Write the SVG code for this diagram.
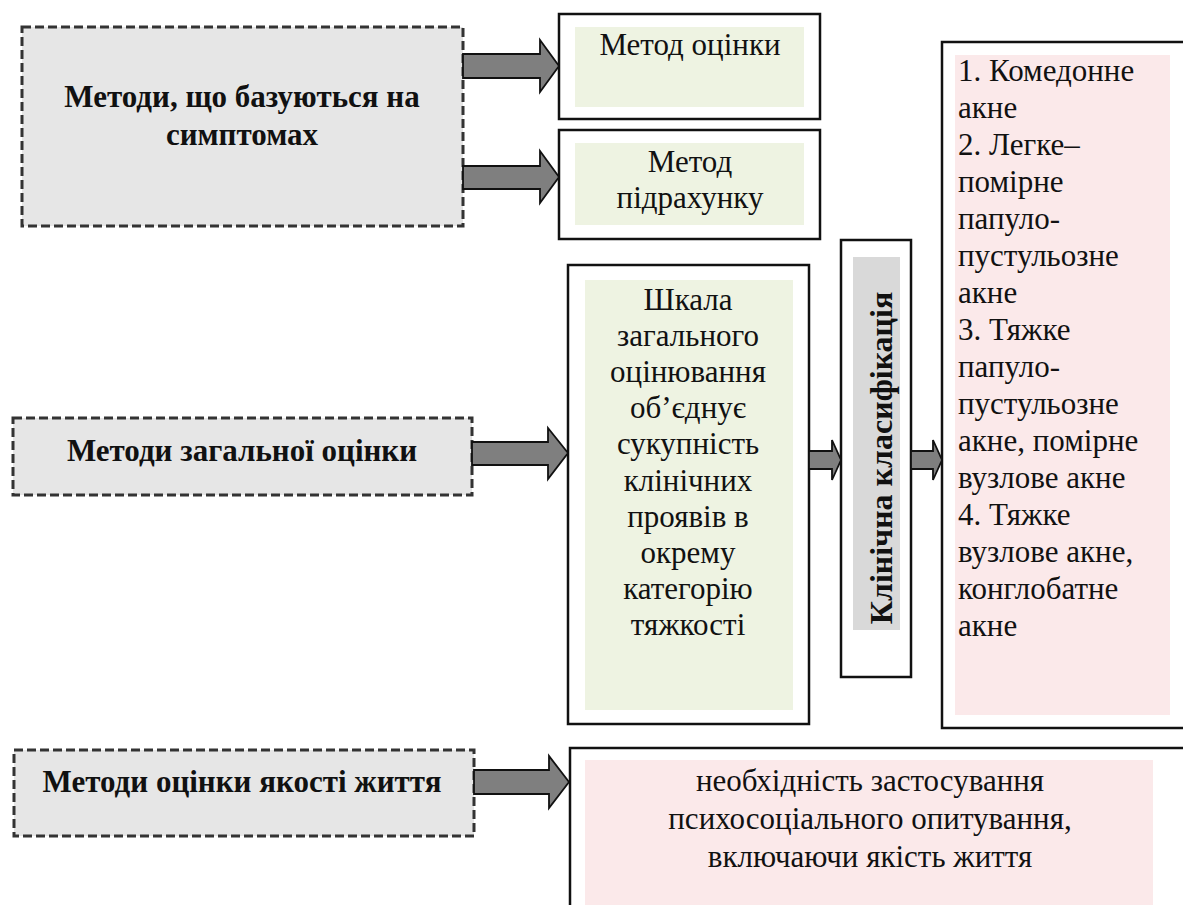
<svg xmlns="http://www.w3.org/2000/svg" width="1183" height="905" viewBox="0 0 1183 905">
<defs>
<style>
.dash{fill:#e6e6e6;stroke:#333;stroke-width:3;stroke-dasharray:9 4}
.box{fill:#fff;stroke:#111;stroke-width:2.5}
.green{fill:#eef3e2}
.pink{fill:#fbe9ea}
.gray{fill:#d9d9d9}
.arrow{fill:#7f7f7f;stroke:#111;stroke-width:1.8;stroke-linejoin:miter}
</style>
</defs>
<rect width="1183" height="905" fill="#fff"/>

<g id="n-symptoms">
<rect class="dash" x="22" y="27" width="441" height="199"/>
<text font-family="Liberation Serif" font-weight="bold" font-size="31" text-anchor="middle" fill="#111" x="242" y="107">Методи, що базуються на</text>
<text font-family="Liberation Serif" font-weight="bold" font-size="31" text-anchor="middle" fill="#111" x="242" y="145">симптомах</text>
</g>

<g id="n-metod-otsinky">
<rect class="box" x="559" y="14" width="261" height="105"/>
<rect class="green" x="575" y="27" width="229" height="80"/>
<text font-family="Liberation Serif" font-size="31" text-anchor="middle" fill="#111" x="690" y="55">Метод оцінки</text>
</g>

<g id="n-metod-pidrakhunku">
<rect class="box" x="559" y="130" width="261" height="109"/>
<rect class="green" x="575" y="143" width="229" height="82"/>
<text font-family="Liberation Serif" font-size="31" text-anchor="middle" fill="#111" x="690" y="172">Метод</text>
<text font-family="Liberation Serif" font-size="31" text-anchor="middle" fill="#111" x="690" y="208">підрахунку</text>
</g>

<g id="n-general">
<rect class="dash" x="13" y="418" width="459" height="77"/>
<text font-family="Liberation Serif" font-weight="bold" font-size="31" text-anchor="middle" fill="#111" x="242" y="461">Методи загальної оцінки</text>
</g>

<g id="n-scale">
<rect class="box" x="568" y="265" width="241" height="459"/>
<rect class="green" x="585" y="280" width="208" height="430"/>
<text font-family="Liberation Serif" font-size="31" text-anchor="middle" fill="#111" x="688" y="310">Шкала</text>
<text font-family="Liberation Serif" font-size="31" text-anchor="middle" fill="#111" x="688" y="346">загального</text>
<text font-family="Liberation Serif" font-size="31" text-anchor="middle" fill="#111" x="688" y="382">оцінювання</text>
<text font-family="Liberation Serif" font-size="31" text-anchor="middle" fill="#111" x="688" y="418">об’єднує</text>
<text font-family="Liberation Serif" font-size="31" text-anchor="middle" fill="#111" x="688" y="454">сукупність</text>
<text font-family="Liberation Serif" font-size="31" text-anchor="middle" fill="#111" x="688" y="491">клінічних</text>
<text font-family="Liberation Serif" font-size="31" text-anchor="middle" fill="#111" x="688" y="527">проявів в</text>
<text font-family="Liberation Serif" font-size="31" text-anchor="middle" fill="#111" x="688" y="563">окрему</text>
<text font-family="Liberation Serif" font-size="31" text-anchor="middle" fill="#111" x="688" y="599">категорію</text>
<text font-family="Liberation Serif" font-size="31" text-anchor="middle" fill="#111" x="688" y="635">тяжкості</text>
</g>

<g id="n-clinical">
<rect class="box" x="841" y="240" width="70" height="437"/>
<rect class="gray" x="853" y="257" width="47" height="373"/>
<text font-family="Liberation Serif" font-weight="bold" font-size="32" text-anchor="middle" fill="#111" transform="translate(892,458) rotate(-90)" x="0" y="0">Клінічна класифікація</text>
</g>

<g id="n-classes">
<rect class="box" x="942" y="42" width="243" height="686"/>
<rect class="pink" x="955" y="55" width="215" height="660"/>
<text font-family="Liberation Serif" font-size="31" fill="#111" x="958" y="81">1. Комедонне</text>
<text font-family="Liberation Serif" font-size="31" fill="#111" x="958" y="118">акне</text>
<text font-family="Liberation Serif" font-size="31" fill="#111" x="958" y="155">2. Легке–</text>
<text font-family="Liberation Serif" font-size="31" fill="#111" x="958" y="192">помірне</text>
<text font-family="Liberation Serif" font-size="31" fill="#111" x="958" y="229">папуло-</text>
<text font-family="Liberation Serif" font-size="31" fill="#111" x="958" y="266">пустульозне</text>
<text font-family="Liberation Serif" font-size="31" fill="#111" x="958" y="303">акне</text>
<text font-family="Liberation Serif" font-size="31" fill="#111" x="958" y="340">3. Тяжке</text>
<text font-family="Liberation Serif" font-size="31" fill="#111" x="958" y="377">папуло-</text>
<text font-family="Liberation Serif" font-size="31" fill="#111" x="958" y="414">пустульозне</text>
<text font-family="Liberation Serif" font-size="31" fill="#111" x="958" y="451">акне, помірне</text>
<text font-family="Liberation Serif" font-size="31" fill="#111" x="958" y="488">вузлове акне</text>
<text font-family="Liberation Serif" font-size="31" fill="#111" x="958" y="525">4. Тяжке</text>
<text font-family="Liberation Serif" font-size="31" fill="#111" x="958" y="562">вузлове акне,</text>
<text font-family="Liberation Serif" font-size="31" fill="#111" x="958" y="599">конглобатне</text>
<text font-family="Liberation Serif" font-size="31" fill="#111" x="958" y="636">акне</text>
</g>

<g id="n-quality">
<rect class="dash" x="14" y="750" width="460" height="86"/>
<text font-family="Liberation Serif" font-weight="bold" font-size="31" text-anchor="middle" fill="#111" x="242" y="792">Методи оцінки якості життя</text>
</g>

<g id="n-psycho">
<rect class="box" x="570" y="748" width="620" height="170"/>
<rect class="pink" x="585" y="760" width="568" height="145"/>
<text font-family="Liberation Serif" font-size="31" text-anchor="middle" fill="#111" x="870" y="791">необхідність застосування</text>
<text font-family="Liberation Serif" font-size="31" text-anchor="middle" fill="#111" x="870" y="829">психосоціального опитування,</text>
<text font-family="Liberation Serif" font-size="31" text-anchor="middle" fill="#111" x="870" y="867">включаючи якість життя</text>
</g>

<g id="connectors">
<polygon class="arrow" points="463,54 540,54 540,40 559,66 540,92 540,78 463,78"/>
<polygon class="arrow" points="463,166 540,166 540,151 559,177 540,203 540,189 463,189"/>
<polygon class="arrow" points="472,442 548,442 548,428 568,453 548,479 548,465 472,465"/>
<polygon class="arrow" points="809,451 832,451 832,440 841,460 832,480 832,469 809,469"/>
<polygon class="arrow" points="911,451 933,451 933,440 942,460 933,480 933,469 911,469"/>
<polygon class="arrow" points="474,770 549,770 549,756 569,782 549,808 549,794 474,794"/>
</g>
</svg>
